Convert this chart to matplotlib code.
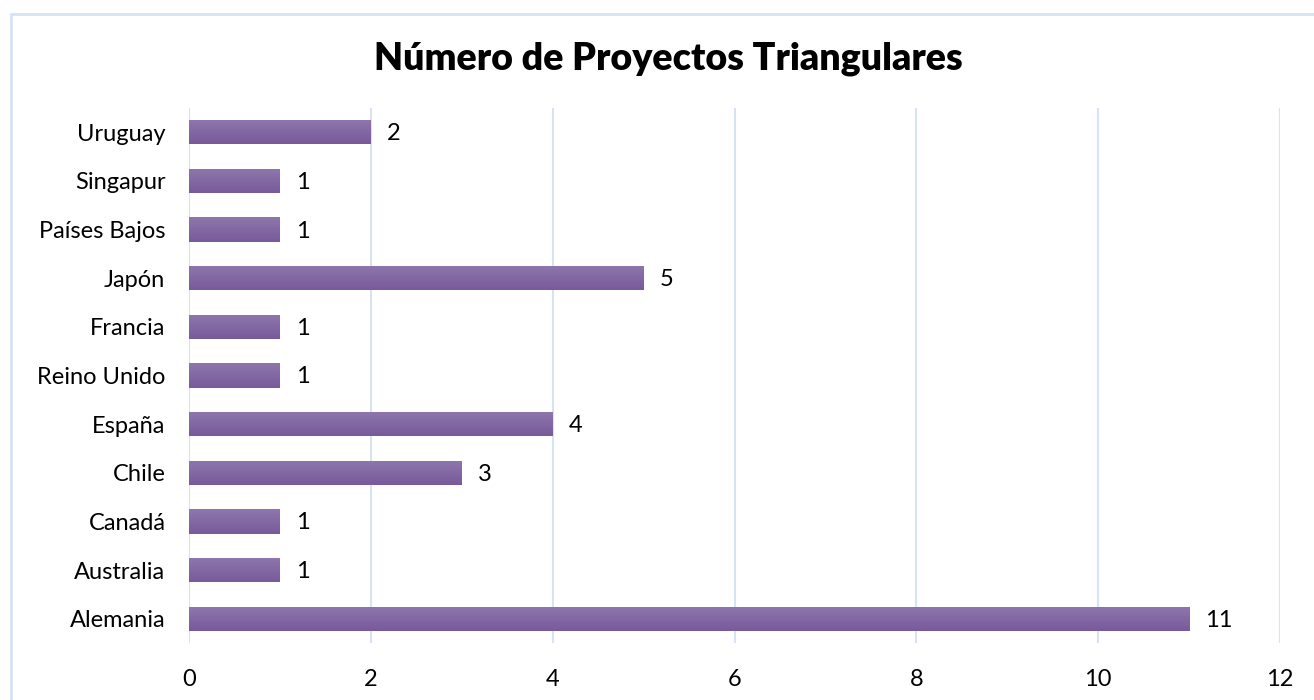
import numpy as np
import matplotlib.pyplot as plt
from matplotlib.patches import Rectangle
from matplotlib.colors import LinearSegmentedColormap

# Data
countries = ["Alemania", "Australia", "Canadá", "Chile", "España", "Reino Unido",
             "Francia", "Japón", "Países Bajos", "Singapur", "Uruguay"]
projects = [11, 1, 1, 3, 4, 1, 1, 5, 1, 1, 2]
xticks = [0, 2, 4, 6, 8, 10, 12]

plt.rcParams['font.family'] = ['Lato', 'DejaVu Sans']

fig = plt.figure(figsize=(13.14, 7), dpi=100)
ax = fig.add_axes([189/1314, 1 - 643/700, (1280 - 189)/1314, (643 - 108)/700])

# outer chart border
fig.patches.append(Rectangle((11/1314, -0.01), 1.02, 1 - 14/700 + 0.01,
                             transform=fig.transFigure, fill=False,
                             edgecolor="#d6e3f2", linewidth=2))

y = np.arange(len(countries))
bars = ax.barh(y, projects, height=0.5, color="#8466a3")

# vertical gradient on each bar
cmap = LinearSegmentedColormap.from_list("purp", ["#8e77ad", "#785a9b"])
grad = np.linspace(0, 1, 64).reshape(-1, 1)
for b in bars:
    x0, y0, w, h = b.get_x(), b.get_y(), b.get_width(), b.get_height()
    im = ax.imshow(grad, cmap=cmap, aspect="auto", origin="lower",
                   extent=(x0, x0 + w, y0 + h, y0), zorder=3)
    im.set_clip_path(b)
    b.set_zorder(2)

for yi, v in zip(y, projects):
    ax.text(v + 0.18, yi - 0.03, str(v), va="center", ha="left", fontsize=17, color="#000000")

ax.set_xlim(0, 12)
ax.set_ylim(-0.5, len(countries) - 0.5)
ax.set_xticks(xticks)
ax.set_yticks(y)
ax.set_yticklabels(countries)
ax.tick_params(axis="both", length=0, labelsize=17, colors="#000000")
ax.tick_params(axis="y", pad=17)
ax.tick_params(axis="x", pad=19)
ax.grid(axis="x", color="#d6e3f2", linewidth=1.5)
ax.set_axisbelow(True)
for s in ax.spines.values():
    s.set_visible(False)

fig.text(668/1314, 1 - 59/700, "Número de Proyectos Triangulares",
         ha="center", va="center", fontsize=27, fontweight="heavy")

fig.savefig("out.png", dpi=100)
